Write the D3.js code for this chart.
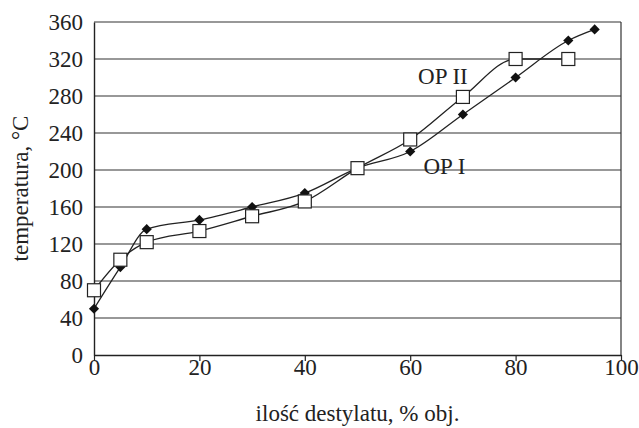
<!DOCTYPE html>
<html>
<head>
<meta charset="utf-8">
<script src="https://cdn.jsdelivr.net/npm/d3@7"></script>
<style>
  body { margin: 0; background: #fff; }
  text { font-family: "Liberation Serif", "Times New Roman", serif; fill: #222; }
</style>
</head>
<body>
<div id="wrapper"></div>
<script>
// data
const xValuesOP1 = [0, 5, 10, 20, 30, 40, 50, 60, 70, 80, 90, 95];
const yValuesOP1 = [50, 95, 136, 146, 160, 175, 202, 220, 260, 300, 340, 352];
const xValuesOP2 = [0, 5, 10, 20, 30, 40, 50, 60, 70, 80, 90];
const yValuesOP2 = [70, 103, 122, 134, 150, 166, 202, 233, 279, 320, 320];
const xTicks = [0, 20, 40, 60, 80, 100];
const yTicks = [0, 40, 80, 120, 160, 200, 240, 280, 320, 360];
const seriesLabels = ["OP I", "OP II"];

const op1 = xValuesOP1.map((x, i) => ({ x, y: yValuesOP1[i] }));
const op2 = xValuesOP2.map((x, i) => ({ x, y: yValuesOP2[i] }));

const fontSize = 23;

const dimensions = {
  width: 639,
  height: 428,
  margin: { top: 22, right: 18, bottom: 73, left: 94 },
};
dimensions.boundedWidth = dimensions.width - dimensions.margin.left - dimensions.margin.right;
dimensions.boundedHeight = dimensions.height - dimensions.margin.top - dimensions.margin.bottom;

const svg = d3.select("#wrapper")
  .append("svg")
  .attr("width", dimensions.width)
  .attr("height", dimensions.height);

const bounds = svg.append("g")
  .attr("transform", `translate(${dimensions.margin.left},${dimensions.margin.top})`);

const xScale = d3.scaleLinear().domain([0, 100]).range([0, dimensions.boundedWidth]);
const yScale = d3.scaleLinear().domain([0, 360]).range([dimensions.boundedHeight, 0]);

// gridlines
bounds.append("g")
  .selectAll("line")
  .data(yTicks.filter(d => d > 0))
  .join("line")
  .attr("x1", 0)
  .attr("x2", dimensions.boundedWidth)
  .attr("y1", d => yScale(d))
  .attr("y2", d => yScale(d))
  .attr("stroke", "#333")
  .attr("stroke-width", 1.2);

// right border
bounds.append("line")
  .attr("x1", dimensions.boundedWidth).attr("x2", dimensions.boundedWidth)
  .attr("y1", 0).attr("y2", dimensions.boundedHeight)
  .attr("stroke", "#333").attr("stroke-width", 1.2);

// axes
const xAxis = bounds.append("g")
  .attr("transform", `translate(0,${dimensions.boundedHeight})`)
  .call(d3.axisBottom(xScale).tickValues(xTicks).tickSize(6).tickSizeOuter(0).tickPadding(-2));

const yAxis = bounds.append("g")
  .call(d3.axisLeft(yScale).tickValues(yTicks).tickSize(0).tickSizeOuter(0).tickPadding(11));

[xAxis, yAxis].forEach(ax => {
  ax.select(".domain").attr("stroke", "#222").attr("stroke-width", 1.4);
  ax.selectAll(".tick line").attr("stroke", "#222").attr("stroke-width", 1.2);
  ax.selectAll(".tick text")
    .attr("font-family", "Liberation Serif, serif")
    .attr("font-size", fontSize)
    .attr("fill", "#222");
});

// lines
const lineGenerator = d3.line()
  .x(d => xScale(d.x))
  .y(d => yScale(d.y))
  .curve(d3.curveMonotoneX);

bounds.append("path")
  .attr("d", lineGenerator(op1))
  .attr("fill", "none")
  .attr("stroke", "#222")
  .attr("stroke-width", 1.3);

bounds.append("path")
  .attr("d", lineGenerator(op2))
  .attr("fill", "none")
  .attr("stroke", "#222")
  .attr("stroke-width", 1.3);

// markers
const diamond = d3.symbol().type(d3.symbolSquare).size(52);
bounds.append("g")
  .selectAll("path")
  .data(op1)
  .join("path")
  .attr("d", diamond)
  .attr("transform", d => `translate(${xScale(d.x)},${yScale(d.y)}) rotate(45)`)
  .attr("fill", "#111");

const sq = 13;
bounds.append("g")
  .selectAll("rect")
  .data(op2)
  .join("rect")
  .attr("x", d => xScale(d.x) - sq / 2)
  .attr("y", d => yScale(d.y) - sq / 2)
  .attr("width", sq)
  .attr("height", sq)
  .attr("fill", "#fff")
  .attr("stroke", "#222")
  .attr("stroke-width", 1.2);

// series labels
bounds.append("text")
  .attr("x", xScale(62.5))
  .attr("y", yScale(196))
  .attr("font-size", fontSize)
  .text(seriesLabels[0]);

bounds.append("text")
  .attr("x", xScale(61.5))
  .attr("y", yScale(293))
  .attr("font-size", fontSize)
  .text(seriesLabels[1]);

// axis titles
svg.append("text")
  .attr("x", dimensions.margin.left + xScale(50))
  .attr("y", 421)
  .attr("text-anchor", "middle")
  .attr("font-size", fontSize)
  .text("ilość destylatu, % obj.");

svg.append("text")
  .attr("transform", `translate(28,${dimensions.margin.top + yScale(180)}) rotate(-90)`)
  .attr("text-anchor", "middle")
  .attr("font-size", fontSize)
  .text("temperatura, °C");
</script>
</body>
</html>
